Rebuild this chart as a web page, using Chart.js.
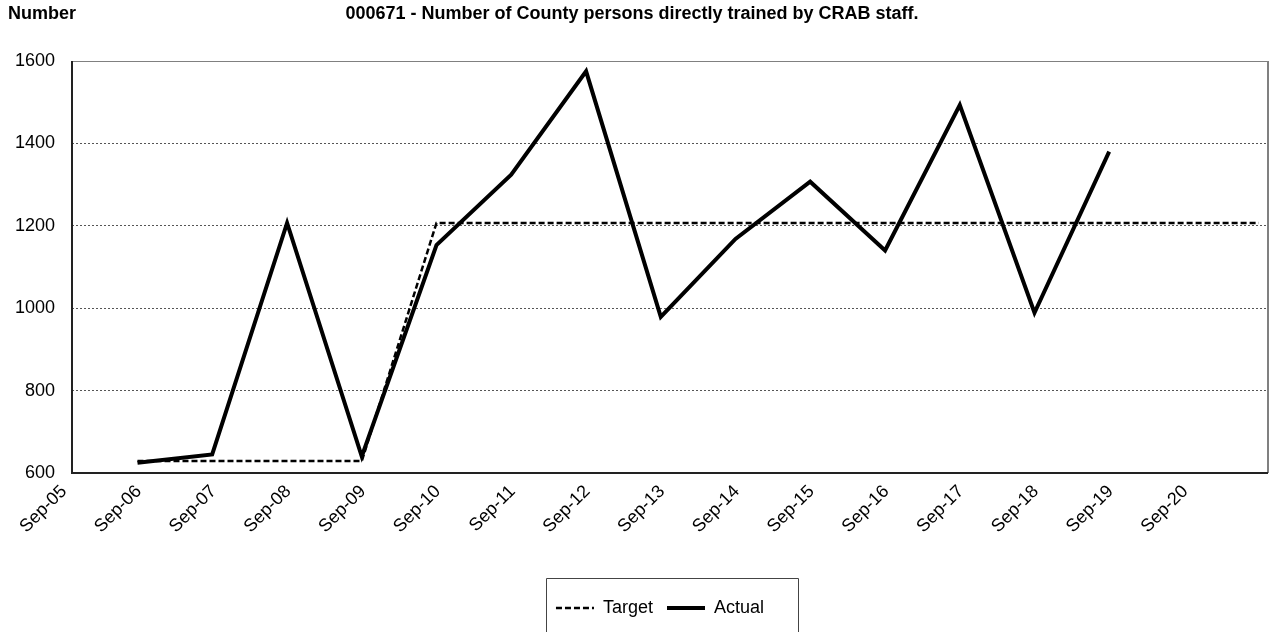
<!DOCTYPE html>
<html>
<head>
<meta charset="utf-8">
<script src="https://cdn.jsdelivr.net/npm/chart.js@4.4.1/dist/chart.umd.min.js"></script>
<style>
  html, body { margin: 0; padding: 0; background: #fff; }
</style>
</head>
<body>
<canvas id="chart" width="1277" height="632"></canvas>
<script>
// axis ticks are every September, the first one being Sep-05
const axisStart = '2005-09-01';
const tickLabels = ['Sep-05', 'Sep-06', 'Sep-07', 'Sep-08', 'Sep-09', 'Sep-10', 'Sep-11', 'Sep-12',
    'Sep-13', 'Sep-14', 'Sep-15', 'Sep-16', 'Sep-17', 'Sep-18', 'Sep-19', 'Sep-20'];

const targetDates = ['2006-07-18', '2007-07-18', '2008-07-18', '2009-07-18', '2010-07-18', '2011-07-18',
    '2012-07-18', '2013-07-18', '2014-07-18', '2015-07-18', '2016-07-18', '2017-07-18',
    '2018-07-18', '2019-07-18', '2020-07-18', '2021-07-18'];
const targetValues = [629, 629, 629, 629, 1207, 1207, 1207, 1207, 1207, 1207, 1207, 1207, 1207, 1207, 1207, 1207];

const actualDates = ['2006-07-18', '2007-07-18', '2008-07-18', '2009-07-18', '2010-07-18', '2011-07-18',
    '2012-07-18', '2013-07-18', '2014-07-18', '2015-07-18', '2016-07-18', '2017-07-18',
    '2018-07-18', '2019-07-18'];
const actualValues = [625, 645, 1207, 640, 1153, 1324, 1575, 979, 1168, 1307, 1140, 1493, 989, 1380];

const yTicks = [600, 800, 1000, 1200, 1400, 1600];

const yearMs = 365.25 * 24 * 3600 * 1000;
const toYears = d => (Date.parse(d) - Date.parse(axisStart)) / yearMs;
const toPoints = (dates, values) => dates.map((d, i) => ({ x: toYears(d), y: values[i] }));

const FONT = "'Liberation Sans', Arial, Helvetica, sans-serif";
Chart.defaults.font.family = FONT;
Chart.defaults.font.size = 18;
Chart.defaults.color = '#000';

const frame = {
    id: 'frame',
    afterLayout(chart) {
        // legend sits a bit left of the plot centre
        chart.legend.left -= 10;
        chart.legend.right -= 10;
    },
    beforeDatasetsDraw(chart) {
        const { ctx, chartArea: a } = chart;
        ctx.save();
        ctx.lineWidth = 1;
        ctx.strokeStyle = '#808080';
        ctx.beginPath();
        ctx.moveTo(a.left, a.top + 0.5);
        ctx.lineTo(a.right, a.top + 0.5);
        ctx.stroke();
        ctx.lineWidth = 2;
        ctx.beginPath();
        ctx.moveTo(a.right, a.top);
        ctx.lineTo(a.right, a.bottom);
        ctx.stroke();
        ctx.strokeStyle = '#222';
        ctx.beginPath();
        ctx.moveTo(a.left, a.top);
        ctx.lineTo(a.left, a.bottom);
        ctx.lineTo(a.right, a.bottom);
        ctx.stroke();
        ctx.restore();
    },
    afterDraw(chart) {
        const { ctx } = chart;
        ctx.save();
        ctx.fillStyle = '#000';
        ctx.font = 'bold 18px ' + FONT;
        ctx.textBaseline = 'middle';
        ctx.textAlign = 'left';
        ctx.fillText('Number', 8, 14);
        ctx.textAlign = 'center';
        ctx.fillText('000671 - Number of County persons directly trained by CRAB staff.', 632, 14);

        const boxes = chart.legend.legendHitBoxes;
        if (boxes && boxes.length) {
            const first = boxes[0];
            const last = boxes[boxes.length - 1];
            const l = Math.round(first.left - 10) + 0.5;
            const r = Math.round(last.left + last.width + 34) + 0.5;
            const t = Math.round(first.top - 21) + 0.5;
            ctx.strokeStyle = '#444';
            ctx.lineWidth = 1;
            ctx.beginPath();
            ctx.moveTo(l, 640);
            ctx.lineTo(l, t);
            ctx.lineTo(r, t);
            ctx.lineTo(r, 640);
            ctx.stroke();
        }
        ctx.restore();
    }
};

new Chart(document.getElementById('chart'), {
    type: 'line',
    data: {
        datasets: [{
            label: 'Target',
            data: toPoints(targetDates, targetValues),
            borderColor: '#000',
            backgroundColor: '#000',
            borderWidth: 2.5,
            borderDash: [6, 3],
            pointRadius: 0,
            tension: 0
        }, {
            label: 'Actual',
            data: toPoints(actualDates, actualValues),
            borderColor: '#000',
            backgroundColor: '#000',
            borderWidth: 4,
            pointRadius: 0,
            tension: 0
        }]
    },
    options: {
        responsive: false,
        animation: false,
        events: [],
        layout: { padding: { top: 61, left: 15, right: 9, bottom: 5 } },
        plugins: {
            tooltip: { enabled: false },
            legend: {
                position: 'bottom',
                fullSize: false,
                labels: {
                    usePointStyle: true,
                    pointStyle: 'line',
                    pointStyleWidth: 38,
                    padding: 14,
                    color: '#000',
                    font: { size: 18 },
                    // point style hides the dataset dash, put it back
                    generateLabels: chart => Chart.defaults.plugins.legend.labels.generateLabels(chart)
                        .map(item => ({ ...item, lineDash: chart.data.datasets[item.datasetIndex].borderDash || [] }))
                }
            }
        },
        scales: {
            x: {
                type: 'linear',
                min: 0,
                max: 16,
                grid: { display: false, drawTicks: false },
                border: { display: false },
                afterFit: scale => {
                    scale.height = 112;
                    scale.paddingLeft = 0;
                    scale.paddingRight = 0;
                },
                ticks: {
                    stepSize: 1,
                    autoSkip: false,
                    minRotation: 45,
                    maxRotation: 45,
                    padding: 8,
                    labelOffset: -8,
                    callback: v => tickLabels[v] || ''
                }
            },
            y: {
                min: 600,
                max: 1600,
                afterBuildTicks: scale => { scale.ticks = yTicks.map(v => ({ value: v })); },
                afterFit: scale => { scale.width = 57; },
                grid: { color: '#555', lineWidth: 1, drawTicks: false },
                border: { display: false, dash: [2, 2] },
                ticks: { padding: 17, callback: v => String(v) }
            }
        }
    },
    plugins: [frame]
});
</script>
</body>
</html>
